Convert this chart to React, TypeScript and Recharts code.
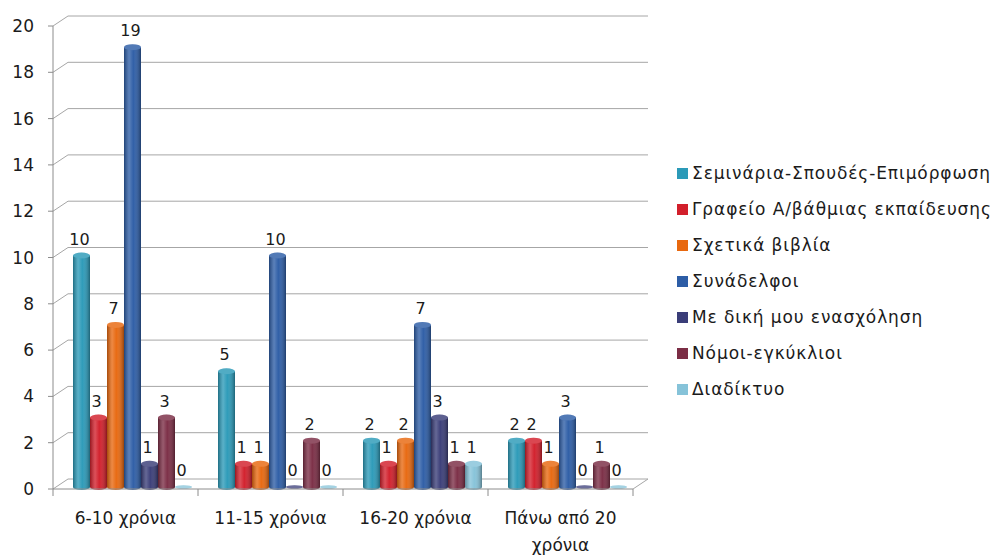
import { BarChart, Bar, XAxis, YAxis, CartesianGrid, Legend, LabelList, Text } from "recharts";

const CATEGORIES = ["6-10 χρόνια", "11-15 χρόνια", "16-20 χρόνια", "Πάνω από 20 χρόνια"];

const SERIES_NAMES = [
  "Σεμινάρια-Σπουδές-Επιμόρφωση",
  "Γραφείο Α/βάθμιας εκπαίδευσης",
  "Σχετικά βιβλία",
  "Συνάδελφοι",
  "Με δική μου ενασχόληση",
  "Νόμοι-εγκύκλιοι",
  "Διαδίκτυο",
];
const SERIES_COLORS = ["#2b9ab8", "#d21f2b", "#e8680f", "#2d5da6", "#3a3d78", "#7b2d45", "#86c3d9"];

const seminaria = [10, 5, 2, 2];
const grafeio = [3, 1, 1, 2];
const vivlia = [7, 1, 2, 1];
const synadelfoi = [19, 10, 7, 3];
const dikiMou = [1, 0, 3, 0];
const nomoi = [3, 2, 1, 1];
const diadiktyo = [0, 0, 1, 0];
const SERIES_VALUES = [seminaria, grafeio, vivlia, synadelfoi, dikiMou, nomoi, diadiktyo];

const Y_TICKS = [0, 2, 4, 6, 8, 10, 12, 14, 16, 18, 20];

const data = CATEGORIES.map((name, i) => {
  const row: Record<string, string | number> = { name };
  SERIES_VALUES.forEach((vals, s) => {
    row[`s${s}`] = vals[i];
  });
  return row;
});

const FONT = "'DejaVu Sans', 'Open Sans', sans-serif";
const TEXT = "#1b1b1b";
const GRID = "#a6a6a6";
const AXIS = "#8c8c8c";

const W = 998;
const H = 556;
const MARGIN = { top: 26, right: 365, bottom: 0, left: 0 };
const Y_W = 53;
const X_H = 67;
const BAND = (W - MARGIN.left - MARGIN.right - Y_W) / CATEGORIES.length;
// fake perspective: back wall is pushed right/up
const DX = 15;
const DY = -10;
// bars sit slightly inside the floor
const BAR_DX = 7;
const BAR_DY = -2;

function GridLine(props: any) {
  const { x1, x2, y1 } = props;
  return (
    <g key={props.key}>
      <line x1={x1} y1={y1} x2={x1 + DX} y2={y1 + DY} stroke={GRID} />
      <line x1={x1 + DX} y1={y1 + DY} x2={x2 + DX} y2={y1 + DY} stroke={GRID} />
    </g>
  );
}

function CylinderBar(props: any) {
  const { x, y, width, height, fill } = props;
  const bx = x + BAR_DX;
  const by = y + BAR_DY;
  const rx = width / 2;
  const ry = 3;
  const cx = bx + rx;
  if (!height || height <= 0) {
    return (
      <g>
        <ellipse cx={cx} cy={by} rx={rx} ry={1.8} fill={fill} />
        <ellipse cx={cx} cy={by} rx={rx} ry={1.8} fill="#fff" opacity={0.25} />
      </g>
    );
  }
  const body = `M${bx},${by} L${bx},${by + height} A${rx},${ry} 0 0 0 ${bx + width},${by + height} L${bx + width},${by} Z`;
  return (
    <g>
      <defs>
        <linearGradient id="cyl-shade" x1="0" x2="1" y1="0" y2="0">
          <stop offset="0" stopColor="#000" stopOpacity={0.28} />
          <stop offset="0.3" stopColor="#fff" stopOpacity={0.22} />
          <stop offset="0.55" stopColor="#fff" stopOpacity={0.02} />
          <stop offset="1" stopColor="#000" stopOpacity={0.35} />
        </linearGradient>
      </defs>
      <path d={body} fill={fill} />
      <path d={body} fill="url(#cyl-shade)" />
      <ellipse cx={cx} cy={by} rx={rx} ry={ry} fill={fill} />
      <ellipse cx={cx} cy={by} rx={rx} ry={ry} fill="#fff" opacity={0.18} />
    </g>
  );
}

function CategoryTick(props: any) {
  const { x, y, payload, index } = props;
  const half = BAND / 2;
  const axisY = y - 6;
  const last = index === CATEGORIES.length - 1;
  return (
    <g>
      <line x1={x - half} y1={axisY} x2={x - half} y2={axisY + 7} stroke={AXIS} />
      {last && (
        <>
          <line x1={x + half} y1={axisY} x2={x + half} y2={axisY + 7} stroke={AXIS} />
          <line x1={x + half} y1={axisY} x2={x + half + DX} y2={axisY + DY} stroke={GRID} />
        </>
      )}
      <Text
        x={x}
        y={y + 17}
        width={132}
        textAnchor="middle"
        verticalAnchor="start"
        lineHeight={27}
        fontSize={17}
        fontFamily={FONT}
        style={{ fontSize: 17, fontFamily: FONT }}
        fill={TEXT}
      >
        {payload.value}
      </Text>
    </g>
  );
}

function LegendBox() {
  return (
    <div style={{ fontFamily: FONT, fontSize: 17, color: TEXT, whiteSpace: "nowrap", letterSpacing: 0.9 }}>
      {SERIES_NAMES.map((name, s) => (
        <div key={name} style={{ display: "flex", alignItems: "center", height: 36 }}>
          <span
            style={{
              flex: "none",
              display: "inline-block",
              width: 11,
              height: 11,
              background: SERIES_COLORS[s],
              marginRight: 4,
            }}
          />
          <span style={{ flex: "none" }}>{name}</span>
        </div>
      ))}
    </div>
  );
}

export default function App() {
  return (
    <div style={{ position: "absolute", left: 0, top: 0, width: W, height: H, background: "#fff" }}>
      <BarChart width={W} height={H} data={data} margin={MARGIN} barCategoryGap={13} barGap={0}>
        <CartesianGrid vertical={false} horizontal={(p: any) => <GridLine {...p} />} />
        <XAxis
          dataKey="name"
          height={X_H}
          interval={0}
          tickLine={false}
          tickSize={6}
          tickMargin={0}
          axisLine={{ stroke: AXIS }}
          tick={<CategoryTick />}
        />
        <YAxis
          width={Y_W}
          domain={[0, 20]}
          ticks={Y_TICKS}
          interval={0}
          tickSize={5}
          tickMargin={14}
          axisLine={{ stroke: AXIS }}
          tickLine={{ stroke: AXIS }}
          tick={{ fontSize: 17, fontFamily: FONT, fill: TEXT }}
        />
        <Legend
          content={<LegendBox />}
          wrapperStyle={{ left: 677, top: 155, width: 0, height: 0, overflow: "visible" }}
        />
        {SERIES_NAMES.map((name, s) => (
          <Bar
            key={name}
            dataKey={`s${s}`}
            name={name}
            fill={SERIES_COLORS[s]}
            shape={<CylinderBar />}
            isAnimationActive={false}
          >
            <LabelList
              dataKey={`s${s}`}
              position="top"
              offset={11}
              dx={5}
              dy={-2}
              fontSize={16}
              fontFamily={FONT}
              fill={TEXT}
            />
          </Bar>
        ))}
      </BarChart>
    </div>
  );
}
